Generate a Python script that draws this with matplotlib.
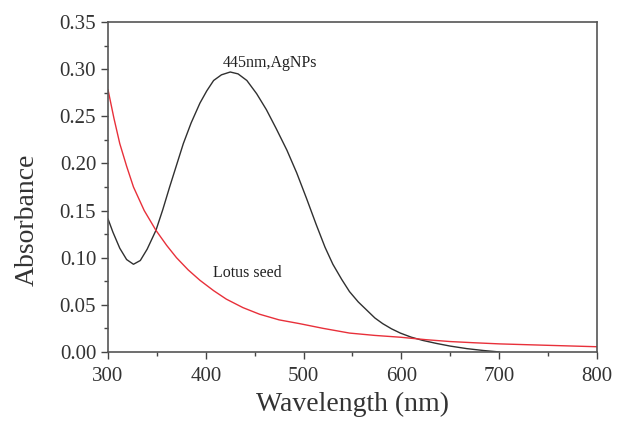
import matplotlib.pyplot as plt
from matplotlib.ticker import MultipleLocator

# AgNPs (black curve)
agnp_wl = [300, 305, 312, 319, 326, 333, 340, 349, 356, 363, 370, 377, 385, 394, 401, 408,
           416, 425, 433, 442, 452, 462, 472, 483, 493, 503, 513, 522, 530, 539, 547, 556,
           565, 573, 581, 590, 599, 610, 622, 636, 650, 667, 684, 700]
agnp_abs = [0.141, 0.127, 0.110, 0.098, 0.093, 0.097, 0.109, 0.129, 0.151, 0.175, 0.198,
            0.221, 0.243, 0.264, 0.277, 0.288, 0.294, 0.297, 0.295, 0.288, 0.274, 0.257,
            0.237, 0.214, 0.190, 0.163, 0.135, 0.111, 0.093, 0.077, 0.064, 0.053, 0.044,
            0.036, 0.030, 0.0245, 0.020, 0.0157, 0.0122, 0.0090, 0.0062, 0.0035, 0.0015, 0.0]

# Lotus seed (red curve)
lotus_wl = [300, 306, 312, 319, 326, 337, 349, 360, 370, 382, 394, 408, 421, 438, 455, 475,
            496, 520, 547, 573, 599, 625, 650, 675, 701, 750, 800]
lotus_abs = [0.278, 0.248, 0.221, 0.197, 0.175, 0.150, 0.129, 0.113, 0.100, 0.087, 0.076,
             0.065, 0.056, 0.047, 0.040, 0.034, 0.030, 0.025, 0.020, 0.0175, 0.0156, 0.013,
             0.011, 0.0097, 0.0085, 0.007, 0.0055]

plt.rcParams['font.family'] = ['Liberation Serif', 'DejaVu Serif']

fig = plt.figure(figsize=(6.21, 4.24), dpi=100)
ax = fig.add_axes([0.174, 0.170, 0.787, 0.778])

ax.plot(agnp_wl, agnp_abs, color='#303030', linewidth=1.0)
ax.plot(lotus_wl, lotus_abs, color='#e8303a', linewidth=1.0)

ax.text(466, 0.3065, '445nm,AgNPs', fontsize=11.5, ha='center', va='center', color='#222222')
ax.text(442, 0.084, 'Lotus seed', fontsize=11.5, ha='center', va='center', color='#222222')

ax.set_xlim(300, 800)
ax.set_ylim(0, 0.35)
ax.xaxis.set_major_locator(MultipleLocator(100))
ax.xaxis.set_minor_locator(MultipleLocator(50))
ax.yaxis.set_major_locator(MultipleLocator(0.05))
ax.yaxis.set_minor_locator(MultipleLocator(0.025))
ax.yaxis.set_major_formatter(plt.FormatStrFormatter('%.2f'))

ax.tick_params(axis='both', which='major', direction='out', length=5, width=1,
               labelsize=15, color='#444444', labelcolor='#333333')
ax.tick_params(axis='both', which='minor', direction='out', length=3, width=1, color='#444444')
ax.tick_params(axis='x', pad=6)
ax.tick_params(top=False, right=False, which='both')

for s in ax.spines.values():
    s.set_color('#555555')
    s.set_linewidth(1.2)

ax.set_xlabel('Wavelength (nm)', fontsize=20, color='#333333')
ax.set_ylabel('Absorbance', fontsize=20, color='#333333')
ax.xaxis.set_label_coords(0.5, -0.122)
ax.yaxis.set_label_coords(-0.139, 0.40)

plt.savefig('out.png', dpi=100)
